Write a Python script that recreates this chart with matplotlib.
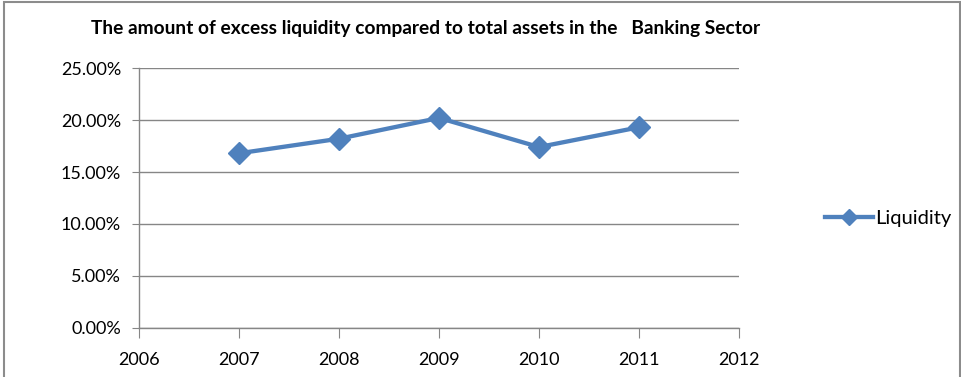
import matplotlib
matplotlib.use('Agg')

import matplotlib.pyplot as plt
from matplotlib.patches import Rectangle
from matplotlib.ticker import FuncFormatter

years = [2007, 2008, 2009, 2010, 2011]
liquidity = [16.8, 18.2, 20.2, 17.4, 19.3]
x_ticks = [2006, 2007, 2008, 2009, 2010, 2011, 2012]
y_ticks = [0, 5, 10, 15, 20, 25]

plt.rcParams['font.family'] = ['Lato', 'DejaVu Sans']

fig = plt.figure(figsize=(9.62, 3.77), dpi=100)
ax = fig.add_axes([0.1445, 0.13, 0.6237, 0.6896])

grid_col = '#868686'
blue = '#4F81BD'

ax.plot(years, liquidity, color=blue, linewidth=3.1, marker='D', markersize=11,
        label='Liquidity', solid_joinstyle='miter')

ax.set_xlim(2006, 2012)
ax.set_ylim(0, 25)
ax.set_xticks(x_ticks)
ax.set_yticks(y_ticks)
ax.yaxis.set_major_formatter(FuncFormatter(lambda v, p: f'{v:.2f}%'))

ax.grid(axis='y', color=grid_col, linewidth=1)
ax.set_axisbelow(True)
for s in ['top', 'right']:
    ax.spines[s].set_visible(False)
for s in ['left', 'bottom']:
    ax.spines[s].set_color(grid_col)
    ax.spines[s].set_linewidth(1)
ax.tick_params(axis='x', direction='out', length=7, color=grid_col, labelsize=13, pad=10)
ax.tick_params(axis='y', direction='out', length=5, color=grid_col, labelsize=13, pad=8)

fig.text(0.442, 0.925, 'The amount of excess liquidity compared to total assets in the   Banking Sector',
         ha='center', va='center', fontsize=13.8, fontweight='bold')

ax.legend(loc='center left', bbox_to_anchor=(1.113, 0.42), frameon=False,
          fontsize=14.5, handlelength=2.4, handletextpad=0.1, markerscale=0.75)

# thin chart border
fig.patches.append(Rectangle((0.004, -0.1), 0.994, 1.094, transform=fig.transFigure,
                             fill=False, edgecolor='#8c8c8c', linewidth=1.5))

fig.savefig('out.png', dpi=100)
plt.close(fig)
